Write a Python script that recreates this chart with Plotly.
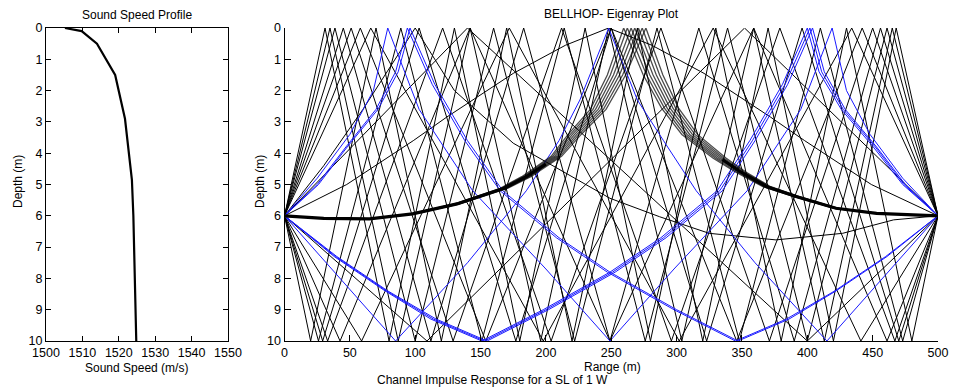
import plotly.graph_objects as go

W, H = 953, 388

# ---------------- Sound speed profile ----------------
ssp_depth = [0, 0.1, 0.5, 1.5, 2.9, 4.85, 6.0, 7.2, 8.2, 10]
ssp_speed = [1505.2, 1509.8, 1514.0, 1519.0, 1521.7, 1523.6, 1524.0, 1524.3, 1524.5, 1524.8]
speed_ticks = [1500, 1510, 1520, 1530, 1540, 1550]
depth_ticks = [0, 1, 2, 3, 4, 5, 6, 7, 8, 9, 10]
range_ticks = [0, 50, 100, 150, 200, 250, 300, 350, 400, 450, 500]

# ---------------- Eigenray geometry ----------------
source_depth = 6
receiver_range = 500
bottom_depth = 10

# bounce ranges (m) of black eigenrays whose first bounce is at the surface
black_surface_first = [
    [140, 400],
    [66, 198, 328, 441],
    [58, 154, 250, 346, 442],
    [51, 129, 212, 296, 379, 467],
    [45, 112, 183, 249, 317, 390, 456],
    [38.6, 100, 160, 222, 285, 348, 410, 473],
    [34.8, 87, 142, 196, 248, 304, 359, 413, 465],
    [31, 80, 130, 180, 230, 280, 330, 380, 430, 480],
]
# bounce ranges (m) of black eigenrays whose first bounce is at the bottom
black_bottom_first = [
    [109, 352],
    [59, 172, 302, 434],
    [42.5, 142, 249, 359, 461],
    [33, 121, 204, 288, 371, 450],
    [29.2, 103, 177, 250, 323, 396, 470],
    [26, 89, 151, 214, 276, 339, 400, 461],
    [20, 70, 120, 170, 220, 270, 320, 370, 420, 468],
]

# thin curved black rays (range, depth)
thin1_r = [0, 47.6, 98.5, 124, 175, 215, 248, 281, 321, 372, 398, 449, 500]
thin1_d = [6, 5.0, 3.6, 2.85, 1.45, 0.55, 0, 0.55, 1.45, 2.85, 3.6, 5.0, 6]
thin2_r = [0, 30, 60, 85, 100, 130, 175, 249, 287, 325, 376, 427, 466, 500]
thin2_d = [6, 4.4, 2.6, 1.0, 0, 2.0, 3.68, 5.44, 6.03, 6.56, 6.77, 6.56, 6.13, 6]

# refracted ray bundle touching the surface between ~260 and ~277 m
bundle_left_d = [6.0, 6.08, 6.1, 5.94, 5.62, 5.12, 4.75, 4.1, 3.4, 2.6, 1.5, 0]
bundle_left_r = [
    [0, 30, 64, 96.5, 130, 165, 181.5, 204, 217, 234, 247, 259.5],
    [0, 30, 64.3, 97, 130.7, 166, 182.7, 205.3, 218.7, 236, 249.3, 262.3],
    [0, 30, 64.7, 97.5, 131.3, 167, 183.8, 206.7, 220.3, 238, 251.7, 265.2],
    [0, 30, 65, 98, 132, 168, 185, 208, 222, 240, 254, 268],
    [0, 30, 65.3, 98.5, 132.7, 169, 186.2, 209.3, 223.7, 242, 256.3, 270.8],
    [0, 30, 65.7, 99, 133.3, 170, 187.3, 210.7, 225.3, 244, 258.7, 273.7],
    [0, 30, 66, 99.5, 134, 171, 188.5, 212, 227, 246, 261, 276.5],
]
bundle_right_d = [0, 1.5, 2.56, 3.4, 4.16, 4.6, 5.07, 5.39, 5.76, 5.92, 6.0]
bundle_right_r = [
    [259.5, 274.5, 288.5, 304, 328, 345, 366, 390, 420.5, 452, 500],
    [262.3, 277, 290.7, 306, 329.7, 346.3, 367, 390.7, 421, 452.3, 500],
    [265.2, 279.5, 292.8, 308, 331.3, 347.7, 368, 391.3, 421.5, 452.7, 500],
    [268, 282, 295, 310, 333, 349, 369, 392, 422, 453, 500],
    [270.8, 284.5, 297.2, 312, 334.7, 350.3, 370, 392.7, 422.5, 453.3, 500],
    [273.7, 287, 299.3, 314, 336.3, 351.7, 371, 393.3, 423, 453.7, 500],
    [276.5, 289.5, 301.5, 316, 338, 353, 372, 394, 423.5, 454, 500],
]
# dense (dark) core of the bundle, near source and receiver
core_left_r = [0, 30, 65, 98, 132, 168, 185, 200]
core_left_d = [6.0, 6.08, 6.1, 5.94, 5.62, 5.12, 4.75, 4.35]
core_right_r = [335, 349, 369, 392, 422, 453, 500]
core_right_d = [4.2, 4.6, 5.07, 5.39, 5.76, 5.92, 6.0]

# blue rays (range, depth)
blue_sbs_r = [0, 25, 50, 68, 79, 103, 144, 200, 249, 298, 354, 395, 419, 430, 448, 473, 500]
blue_sbs_d = [6, 4.8, 3.4, 2.0, 0, 2.6, 5.2, 7.7, 10, 7.7, 5.2, 2.6, 0, 2.0, 3.4, 4.8, 6]

blue_bsb_r = [0, 85, 140, 185, 210, 226, 248, 270, 290, 315, 360, 415, 500]
blue_bsb_d = [6, 10, 7.5, 5.2, 3.6, 2.3, 0, 2.3, 3.6, 5.2, 7.5, 10, 6]

blue_sb_d = [6, 5.0, 3.8, 2.6, 1.4, 0, 1.8, 3.6, 5.2, 6.7, 7.8, 9.0, 10, 9.3, 8.4, 7.3, 6]
blue_sb_r = [
    [0, 25, 47, 70, 85, 94, 113, 138, 165, 208, 247, 298, 345, 384, 421, 460, 500],
    [0, 26, 48, 71.5, 87, 96, 115, 140, 167, 210, 249, 300, 347, 386, 422, 461, 500],
]
blue_bs_d = [6, 7.3, 8.4, 9.3, 10, 9.0, 7.8, 6.7, 5.2, 3.6, 1.8, 0, 1.4, 2.6, 3.8, 5.0, 6]
blue_bs_r = [
    [0, 40, 79, 116, 155, 202, 253, 292, 335, 360, 385, 404, 413, 429, 453, 475, 500],
    [0, 39, 78, 114, 153, 200, 251, 290, 333, 358, 383, 402, 411, 427.5, 452, 474, 500],
    [0, 38, 77, 112, 151, 198, 249, 288, 331, 356, 381, 400, 409, 426, 450.5, 473, 500],
]


def bounce_path(first_at_surface, bounces):
    r = [0.0]
    d = [source_depth]
    depth = 0 if first_at_surface else bottom_depth
    for b in bounces:
        r.append(b)
        d.append(depth)
        depth = bottom_depth - depth
    r.append(receiver_range)
    d.append(source_depth)
    return r, d


def join(paths):
    xs, ys = [], []
    for r, d in paths:
        xs += list(r) + [None]
        ys += list(d) + [None]
    return xs, ys


black_paths = [bounce_path(True, b) for b in black_surface_first]
black_paths += [bounce_path(False, b) for b in black_bottom_first]
black_paths += [(thin1_r, thin1_d), (thin2_r, thin2_d)]

bundle_paths = [(bundle_left_r[i] + bundle_right_r[i], bundle_left_d + bundle_right_d)
                for i in range(len(bundle_left_r))]
core_paths = [(core_left_r, core_left_d), (core_right_r, core_right_d)]

blue_paths = [(blue_sbs_r, blue_sbs_d), (blue_bsb_r, blue_bsb_d)]
blue_paths += [(r, blue_sb_d) for r in blue_sb_r]
blue_paths += [(r, blue_bs_d) for r in blue_bs_r]

fig = go.Figure()

fig.add_trace(go.Scatter(x=ssp_speed, y=ssp_depth, mode="lines",
                         line=dict(color="black", width=2.2),
                         xaxis="x", yaxis="y", showlegend=False, hoverinfo="skip"))

bx, by = join(black_paths)
fig.add_trace(go.Scatter(x=bx, y=by, mode="lines", line=dict(color="black", width=1),
                         xaxis="x2", yaxis="y2", showlegend=False, hoverinfo="skip"))
ux, uy = join(blue_paths)
fig.add_trace(go.Scatter(x=ux, y=uy, mode="lines", line=dict(color="#1a1aff", width=1),
                         xaxis="x2", yaxis="y2", showlegend=False, hoverinfo="skip"))
kx, ky = join(bundle_paths)
fig.add_trace(go.Scatter(x=kx, y=ky, mode="lines", line=dict(color="rgba(0,0,0,0.7)", width=1.3),
                         xaxis="x2", yaxis="y2", showlegend=False, hoverinfo="skip"))
cx, cy = join(core_paths)
fig.add_trace(go.Scatter(x=cx, y=cy, mode="lines", line=dict(color="black", width=3.2),
                         xaxis="x2", yaxis="y2", showlegend=False, hoverinfo="skip"))

FONT = dict(family="Liberation Sans, Arial, sans-serif", size=12.5, color="black")

yd = [1 - 341 / H, 1 - 28 / H]
axis_common = dict(showgrid=False, zeroline=False, showline=True, linecolor="black",
                   linewidth=1, ticks="inside", tickcolor="black", tickwidth=1,
                   tickfont=FONT, automargin=False)

fig.update_layout(
    template="none",
    width=W, height=H,
    margin=dict(l=0, r=0, t=0, b=0, pad=0, autoexpand=False),
    paper_bgcolor="white", plot_bgcolor="white",
    font=FONT,
    showlegend=False,
    xaxis=dict(domain=[46 / W, 228 / W], range=[1500, 1550], tickvals=speed_ticks,
               anchor="y", mirror="ticks", ticklen=5, **axis_common),
    yaxis=dict(domain=yd, range=[10, 0], tickvals=depth_ticks, anchor="x",
               mirror="ticks", ticklen=5, **axis_common),
    xaxis2=dict(domain=[284.5 / W, 938 / W], range=[0, 500], tickvals=range_ticks,
                anchor="y2", mirror=False, ticklen=6, **axis_common),
    yaxis2=dict(domain=yd, range=[10, 0], tickvals=depth_ticks, anchor="x2",
                mirror=False, ticklen=6, **axis_common),
)


def px_ann(text, x, y, angle=0, size=12):
    fig.add_annotation(text=text, x=x / W, y=1 - y / H, xref="paper", yref="paper",
                       showarrow=False, textangle=angle, xanchor="center", yanchor="middle",
                       font=dict(family=FONT["family"], size=size, color="black"))


px_ann("Sound Speed Profile", 137, 15, size=12)
px_ann("BELLHOP- Eigenray Plot", 611, 14, size=12)
px_ann("Sound Speed (m/s)", 136, 368, size=12)
px_ann("Range (m)", 612, 367, size=12)
px_ann("Channel Impulse Response for a SL of 1 W", 492, 380, size=12)
px_ann("Depth (m)", 18, 182, angle=-90, size=12)
px_ann("Depth (m)", 260, 182, angle=-90, size=12)

fig.write_html(
    "out.html",
    config={"displayModeBar": False},
    post_script="document.body.style.margin='0';document.body.style.overflow='hidden';",
)
